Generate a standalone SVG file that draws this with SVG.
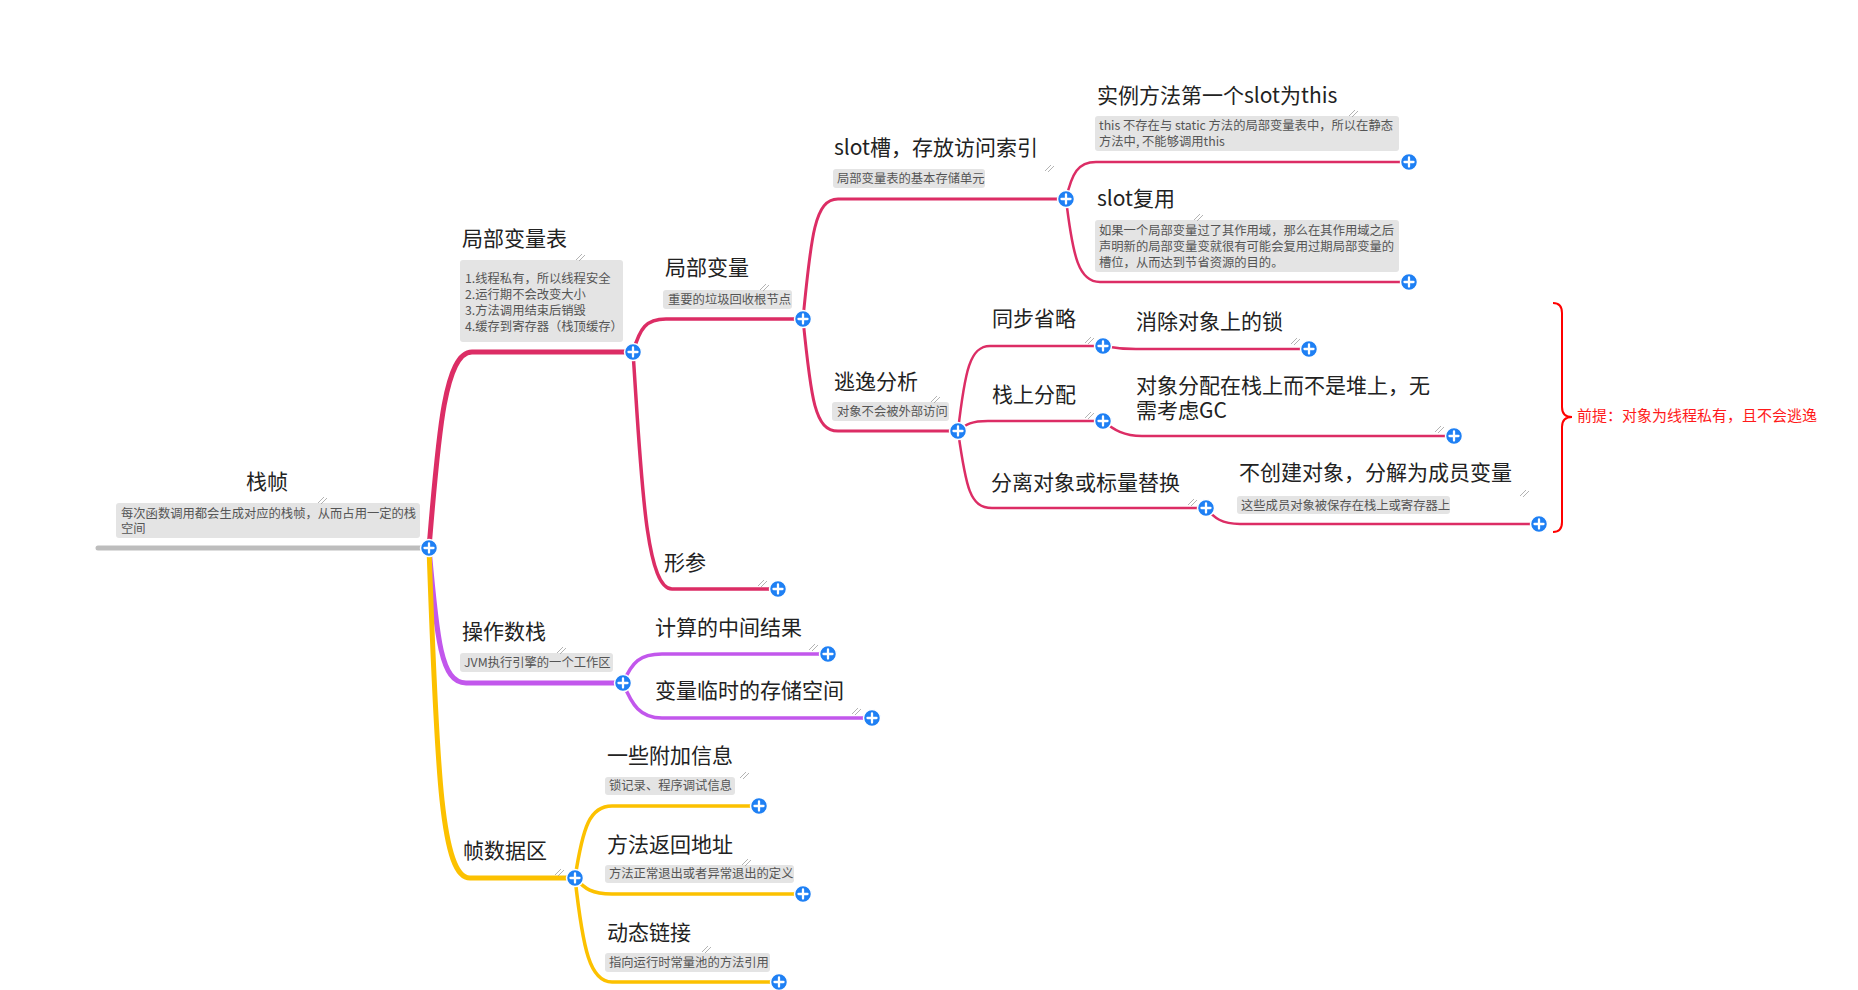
<svg xmlns="http://www.w3.org/2000/svg" xmlns:xlink="http://www.w3.org/1999/xlink" width="1858" height="990" viewBox="0 0 1858 990">
<style>
.t{font-family:"Noto Sans CJK SC","Noto Sans",sans-serif;font-size:21px;fill:#222}
.n{font-family:"Noto Sans CJK SC","Noto Sans",sans-serif;font-size:12.3px;fill:#555}
.nb{fill:#e4e4e4}
.c{fill:none;stroke-linecap:round;stroke-linejoin:round}
.pk{stroke:#dc2d65}
.pu{stroke:#c257ec}
.ye{stroke:#fcc100}
.l1{stroke-width:5}
.l2{stroke-width:3.5}
.l3{stroke-width:3}
.l4{stroke-width:2.5}
.mk{fill:none;stroke:#a0a0a0;stroke-width:0.8}
</style>
<defs>
<g id="plus">
<circle r="8.5" fill="#1f80f4" stroke="#ffffff" stroke-width="1.5"/>
<path d="M-4.5,0H4.5M0,-4.5V4.5" stroke="#ffffff" stroke-width="2.3" stroke-linecap="round"/>
</g>
<path id="mark" d="M0,0l6,-6M3,1l6,-6"/>
</defs>
<rect width="1858" height="990" fill="#ffffff"/>

<g id="connectors">
<path class="c l1" stroke="#bdbdbd" d="M98,548H429"/>
<path class="c pk l1" d="M429,548C438,440 444,352 472,352H633"/>
<path class="c pk l2" d="M633,352C640,328 646,319 666,319H803"/>
<path class="c pk l2" d="M633,352C641,470 645,589 672,589H778"/>
<path class="c pk l3" d="M803,319C811,235 815,199 838,199H1066"/>
<path class="c pk l3" d="M803,319C811,400 815,431 838,431H958"/>
<path class="c pk l4" d="M1066,199C1072,173 1078,162 1096,162H1409"/>
<path class="c pk l4" d="M1066,199C1073,258 1079,282 1100,282H1409"/>
<path class="c pk l4" d="M958,431C965,370 970,346 990,346H1103"/>
<path class="c pk l4" d="M958,431C966,424 972,421 988,421H1103"/>
<path class="c pk l4" d="M958,431C966,488 970,508 992,508H1206"/>
<path class="c pk l4" d="M1103,346C1114,348 1120,349 1136,349H1309"/>
<path class="c pk l4" d="M1103,421C1114,430 1124,436 1142,436H1454"/>
<path class="c pk l4" d="M1206,508C1214,518 1222,524 1240,524H1539"/>
<path class="c pu l1" d="M429,548C437,640 441,683 466,683H623"/>
<path class="c pu l2" d="M623,683C632,662 640,654 662,654H828"/>
<path class="c pu l2" d="M623,683C632,705 640,718 662,718H872"/>
<path class="c ye l1" d="M429,548C437,780 442,878 470,878H575"/>
<path class="c ye l2" d="M575,878C583,826 590,806 612,806H759"/>
<path class="c ye l2" d="M575,878C585,889 592,894 612,894H803"/>
<path class="c ye l2" d="M575,878C583,950 590,982 612,982H779"/>
</g>

<g id="node-root">
<text class="t" x="246" y="489">栈帧</text>
<rect class="nb" x="116" y="503" width="304" height="35" rx="3"/>
<text class="n" x="121" y="518">每次函数调用都会生成对应的栈帧，从而占用一定的栈</text>
<text class="n" x="121" y="533">空间</text>
<use xlink:href="#mark" class="mk" x="318" y="503"/>
<use xlink:href="#plus" x="429" y="548"/>
</g>

<g id="node-jbblb">
<text class="t" x="462" y="246">局部变量表</text>
<rect class="nb" x="460" y="260" width="163" height="82" rx="3"/>
<text class="n" x="465" y="283">1.线程私有，所以线程安全</text>
<text class="n" x="465" y="299">2.运行期不会改变大小</text>
<text class="n" x="465" y="315">3.方法调用结束后销毁</text>
<text class="n" x="465" y="331">4.缓存到寄存器（栈顶缓存）</text>
<use xlink:href="#mark" class="mk" x="576" y="260"/>
<use xlink:href="#plus" x="633" y="352"/>
</g>

<g id="node-jbbl">
<text class="t" x="665" y="275">局部变量</text>
<rect class="nb" x="663" y="290" width="129" height="19" rx="3"/>
<text class="n" x="668" y="304">重要的垃圾回收根节点</text>
<use xlink:href="#mark" class="mk" x="760" y="290"/>
<use xlink:href="#plus" x="803" y="319"/>
</g>

<g id="node-slot">
<text class="t" x="834" y="155">slot槽，存放访问索引</text>
<rect class="nb" x="833" y="169" width="152" height="19" rx="3"/>
<text class="n" x="837" y="183">局部变量表的基本存储单元</text>
<use xlink:href="#mark" class="mk" x="1045" y="171"/>
<use xlink:href="#plus" x="1066" y="199"/>
</g>

<g id="node-this">
<text class="t" x="1097" y="103">实例方法第一个slot为this</text>
<rect class="nb" x="1095" y="116" width="304" height="35" rx="3"/>
<text class="n" x="1099" y="130">this 不存在与 static 方法的局部变量表中，所以在静态</text>
<text class="n" x="1099" y="146">方法中, 不能够调用this</text>
<use xlink:href="#mark" class="mk" x="1349" y="116"/>
<use xlink:href="#plus" x="1409" y="162"/>
</g>

<g id="node-slotreuse">
<text class="t" x="1097" y="206">slot复用</text>
<rect class="nb" x="1095" y="220" width="304" height="52" rx="3"/>
<text class="n" x="1099" y="235">如果一个局部变量过了其作用域，那么在其作用域之后</text>
<text class="n" x="1099" y="251">声明新的局部变量变就很有可能会复用过期局部变量的</text>
<text class="n" x="1099" y="267">槽位，从而达到节省资源的目的。</text>
<use xlink:href="#mark" class="mk" x="1194" y="220"/>
<use xlink:href="#plus" x="1409" y="282"/>
</g>

<g id="node-escape">
<text class="t" x="834" y="389">逃逸分析</text>
<rect class="nb" x="832" y="402" width="117" height="19" rx="3"/>
<text class="n" x="837" y="416">对象不会被外部访问</text>
<use xlink:href="#mark" class="mk" x="931" y="402"/>
<use xlink:href="#plus" x="958" y="431"/>
</g>

<g id="node-sync">
<text class="t" x="992" y="326">同步省略</text>
<use xlink:href="#mark" class="mk" x="1085" y="343"/>
<use xlink:href="#plus" x="1103" y="346"/>
</g>

<g id="node-lock">
<text class="t" x="1136" y="329">消除对象上的锁</text>
<use xlink:href="#mark" class="mk" x="1291" y="344"/>
<use xlink:href="#plus" x="1309" y="349"/>
</g>

<g id="node-stackalloc">
<text class="t" x="992" y="402">栈上分配</text>
<use xlink:href="#mark" class="mk" x="1085" y="418"/>
<use xlink:href="#plus" x="1103" y="421"/>
</g>

<g id="node-stackalloc-desc">
<text class="t" x="1136" y="393">对象分配在栈上而不是堆上，无</text>
<text class="t" x="1136" y="418">需考虑GC</text>
<use xlink:href="#mark" class="mk" x="1435" y="432"/>
<use xlink:href="#plus" x="1454" y="436"/>
</g>

<g id="node-scalar">
<text class="t" x="991" y="490">分离对象或标量替换</text>
<use xlink:href="#mark" class="mk" x="1188" y="505"/>
<use xlink:href="#plus" x="1206" y="508"/>
</g>

<g id="node-scalar-desc">
<text class="t" x="1239" y="480">不创建对象，分解为成员变量</text>
<rect class="nb" x="1237" y="496" width="213" height="18" rx="3"/>
<text class="n" x="1241" y="510">这些成员对象被保存在栈上或寄存器上</text>
<use xlink:href="#mark" class="mk" x="1520" y="496"/>
<use xlink:href="#plus" x="1539" y="524"/>
</g>

<g id="brace">
<path d="M1553,303Q1562,303 1562,313V407Q1562,417 1572,417Q1562,417 1562,427V522Q1562,532 1553,532" fill="none" stroke="#ff0000" stroke-width="2"/>
<text x="1577" y="421" font-family="Noto Sans CJK SC, sans-serif" font-size="15" fill="#ff1a1a">前提：对象为线程私有，且不会逃逸</text>
</g>

<g id="node-param">
<text class="t" x="664" y="570">形参</text>
<use xlink:href="#mark" class="mk" x="758" y="586"/>
<use xlink:href="#plus" x="778" y="589"/>
</g>

<g id="node-opstack">
<text class="t" x="462" y="639">操作数栈</text>
<rect class="nb" x="460" y="653" width="153" height="19" rx="3"/>
<text class="n" x="464" y="667">JVM执行引擎的一个工作区</text>
<use xlink:href="#mark" class="mk" x="557" y="653"/>
<use xlink:href="#plus" x="623" y="683"/>
</g>

<g id="node-calc">
<text class="t" x="655" y="635">计算的中间结果</text>
<use xlink:href="#mark" class="mk" x="809" y="650"/>
<use xlink:href="#plus" x="828" y="654"/>
</g>

<g id="node-tmp">
<text class="t" x="655" y="698">变量临时的存储空间</text>
<use xlink:href="#mark" class="mk" x="852" y="714"/>
<use xlink:href="#plus" x="872" y="718"/>
</g>

<g id="node-framedata">
<text class="t" x="463" y="858">帧数据区</text>
<use xlink:href="#mark" class="mk" x="555" y="875"/>
<use xlink:href="#plus" x="575" y="878"/>
</g>

<g id="node-extra">
<text class="t" x="607" y="763">一些附加信息</text>
<rect class="nb" x="605" y="777" width="130" height="18" rx="3"/>
<text class="n" x="609" y="790">锁记录、程序调试信息</text>
<use xlink:href="#mark" class="mk" x="740" y="778"/>
<use xlink:href="#plus" x="759" y="806"/>
</g>

<g id="node-return">
<text class="t" x="607" y="852">方法返回地址</text>
<rect class="nb" x="605" y="865" width="189" height="18" rx="3"/>
<text class="n" x="609" y="878">方法正常退出或者异常退出的定义</text>
<use xlink:href="#mark" class="mk" x="742" y="865"/>
<use xlink:href="#plus" x="803" y="894"/>
</g>

<g id="node-dynlink">
<text class="t" x="607" y="940">动态链接</text>
<rect class="nb" x="605" y="953" width="165" height="19" rx="3"/>
<text class="n" x="609" y="967">指向运行时常量池的方法引用</text>
<use xlink:href="#mark" class="mk" x="702" y="952"/>
<use xlink:href="#plus" x="779" y="982"/>
</g>
</svg>
